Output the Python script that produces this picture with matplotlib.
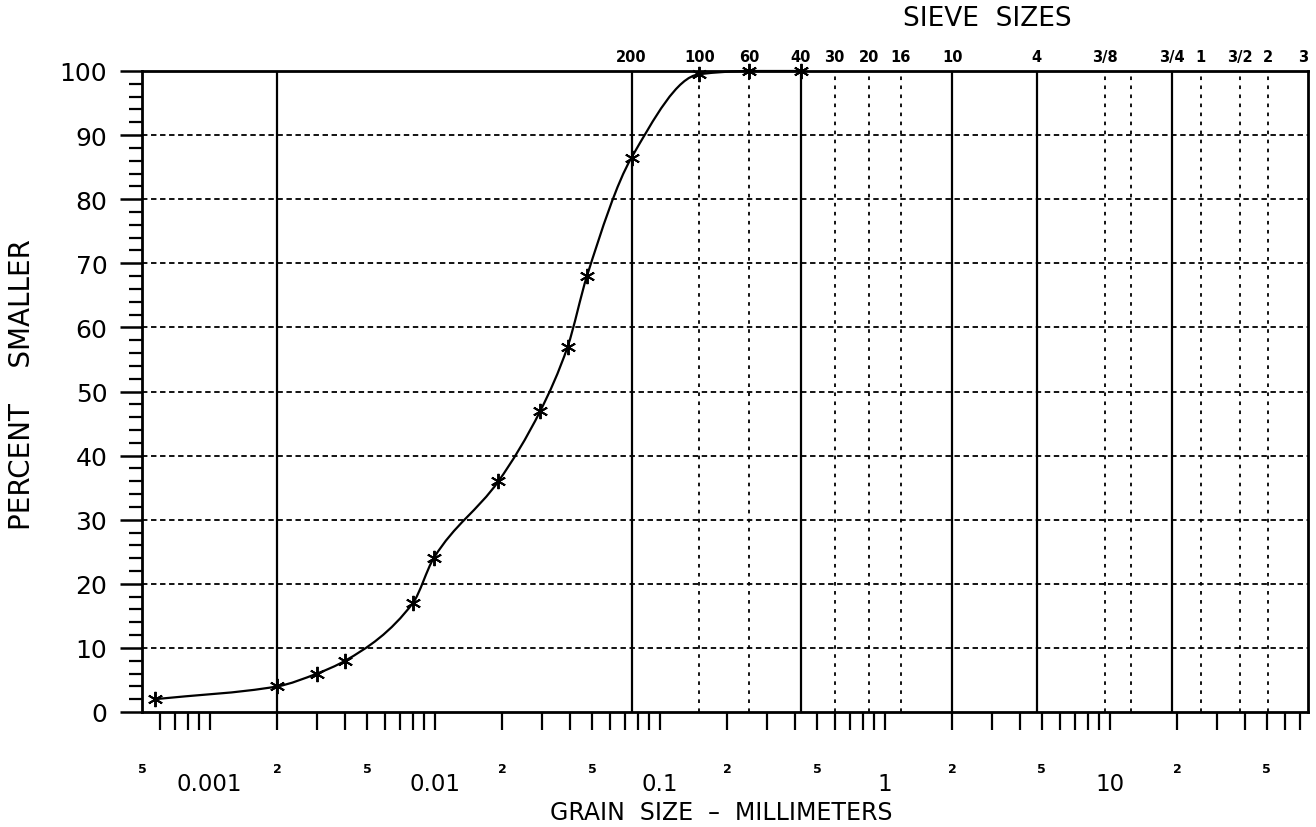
import numpy as np
import matplotlib
matplotlib.use("Agg")
import matplotlib.pyplot as plt
from matplotlib.path import Path
from matplotlib.patches import PathPatch

# gradation test results (hydrometer + sieve)
grain_mm = [0.00057, 0.002, 0.003, 0.004, 0.0080, 0.0099, 0.0192, 0.0295,
            0.039, 0.0475, 0.075, 0.15, 0.25, 0.425]
pct_smaller = [2, 4, 6, 8, 17, 24, 36, 47, 57, 68, 86.5, 99.5, 100, 100]

# sieve openings shown on the top of the chart
sieve_mm = [0.075, 0.15, 0.25, 0.425, 0.6, 0.85, 1.18, 2.0, 4.75, 9.5, 12.5,
            19.0, 25.4, 38.1, 50.8, 76.2]
sieve_labels = ["200", "100", "60", "40", "30", "20", "16", "10", "4", "3/8", "",
                "3/4", "1", "3/2", "2", "3"]
solid_mm = [0.002, 0.075, 0.425, 2.0, 4.75, 19.0]

decade_mm = [0.001, 0.01, 0.1, 1, 10]
decade_labels = ["0.001", "0.01", "0.1", "1", "10"]
sub_mm = [0.0005, 0.002, 0.005, 0.02, 0.05, 0.2, 0.5, 2, 5, 20, 50]
sub_labels = ["5", "2", "5", "2", "5", "2", "5", "2", "5", "2", "5"]

plt.rcParams["font.family"] = ["DejaVu Sans"]

fig = plt.figure(figsize=(13.16, 8.28), dpi=100)
ax = fig.add_axes([142 / 1316, 1 - 713 / 828, (1308 - 142) / 1316, (713 - 72) / 828])

ax.set_xscale("log")
ax.set_xlim(0.0005, 76.2)
ax.set_ylim(0, 100)

# grid: dashed horizontals, solid/dotted verticals at sieve sizes
for v in range(10, 100, 10):
    ax.axhline(v, color="black", lw=1.3, ls=(0, (3, 2)), zorder=1)
for s in sieve_mm:
    if s in solid_mm or s == sieve_mm[-1]:
        continue
    ax.axvline(s, color="black", lw=1.3, ls=(0, (2, 3)), zorder=1)
for s in solid_mm:
    ax.axvline(s, color="black", lw=1.6, zorder=1)

# smooth gradation curve: monotone cubic drawn as bezier segments in log-x
u = np.log10(grain_mm)
y = np.array(pct_smaller, dtype=float)
h = np.diff(u)
d = np.diff(y) / h
m = np.zeros_like(y)
m[0], m[-1] = d[0], d[-1]
for k in range(1, len(y) - 1):
    if d[k - 1] * d[k] <= 0:
        m[k] = 0.0
    else:
        w1 = 2 * h[k] + h[k - 1]
        w2 = h[k] + 2 * h[k - 1]
        m[k] = (w1 + w2) / (w1 / d[k - 1] + w2 / d[k])
verts = [(grain_mm[0], y[0])]
codes = [Path.MOVETO]
for k in range(len(h)):
    verts.append((10 ** (u[k] + h[k] / 3), y[k] + m[k] * h[k] / 3))
    verts.append((10 ** (u[k + 1] - h[k] / 3), y[k + 1] - m[k + 1] * h[k] / 3))
    verts.append((grain_mm[k + 1], y[k + 1]))
    codes += [Path.CURVE4] * 3
ax.add_patch(PathPatch(Path(verts, codes), fill=False, lw=1.6,
                       edgecolor="black", zorder=3, clip_on=False))
ax.plot(grain_mm, pct_smaller, ls="none", marker=(6, 2, 0), ms=11, mew=1.4,
        color="black", zorder=4, clip_on=False)

for sp in ax.spines.values():
    sp.set_linewidth(2)

# y axis
ax.set_yticks(range(0, 101, 10))
ax.set_yticks(range(0, 101, 2), minor=True)
ax.tick_params(axis="y", which="major", direction="out", length=16, width=1.8,
               pad=9, labelsize=18)
ax.tick_params(axis="y", which="minor", direction="out", length=9.5, width=1.6)

# x axis: ticks only, labels drawn as text rows
ax.set_xticks(decade_mm)
ax.set_xticklabels([])
minor = [b * 10.0 ** e for e in range(-4, 2) for b in range(2, 10)
         if 0.0005 < b * 10.0 ** e < 76.2]
ax.set_xticks(minor, minor=True)
ax.set_xticklabels([], minor=True)
ax.tick_params(axis="x", which="both", direction="out", length=13, width=1.6)

xtr = ax.get_xaxis_transform()
for x, t in zip(sub_mm, sub_labels):
    ax.text(x, -0.088, t, transform=xtr, ha="center", va="center",
            fontsize=9, fontweight="bold")
for x, t in zip(decade_mm, decade_labels):
    ax.text(x, -0.1123, t, transform=xtr, ha="center", va="center", fontsize=16.5)
for x, t in zip(sieve_mm, sieve_labels):
    ax.text(x, 1.0234, t, transform=xtr, ha="right" if t == "3" else "center",
            va="center", fontsize=10.5, fontweight="bold")

fig.text(987 / 1316, 1 - 19 / 828, "SIEVE  SIZES", ha="center", va="center",
         fontsize=19)
fig.text(22 / 1316, 1 - 385 / 828, "PERCENT    SMALLER", rotation=90,
         ha="center", va="center", fontsize=20)
fig.text(721 / 1316, 1 - 813 / 828, "GRAIN  SIZE  \u2013  MILLIMETERS",
         ha="center", va="center", fontsize=17)

fig.savefig("out.png", dpi=100)
